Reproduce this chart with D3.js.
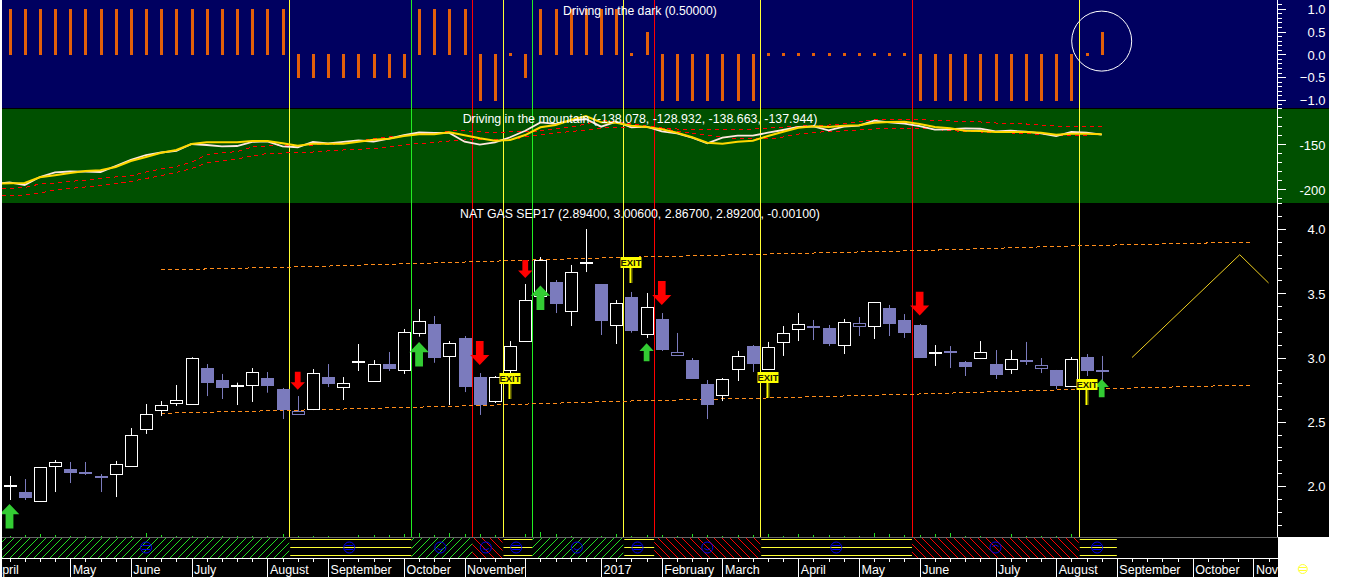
<!DOCTYPE html>
<html><head><meta charset="utf-8">
<script src="https://cdn.jsdelivr.net/npm/d3@7/dist/d3.min.js"></script>
<style>html,body{margin:0;padding:0;background:#fff;overflow:hidden}svg{display:block}text{font-family:"Liberation Sans",Arial,sans-serif;fill:#fff}</style>
</head><body><svg id="c" width="1352" height="577"></svg>
<script>
// ---------- data ----------
const opens=[2.002,1.953,1.878,2.158,2.132,2.099,2.078,2.096,2.158,2.446,2.594,2.648,2.636,2.918,2.825,2.778,2.781,2.840,2.752,2.584,2.597,2.848,2.765,2.961,2.819,2.949,2.903,3.191,3.261,3.006,3.152,2.848,2.664,2.903,3.131,3.473,3.587,3.356,3.731,3.572,3.247,3.471,3.177,3.300,3.040,2.980,2.794,2.708,2.910,3.089,2.910,3.121,3.219,3.245,3.230,3.092,3.268,3.240,3.385,3.292,3.253,3.035,3.051,2.965,2.991,2.949,2.905,2.980,2.944,2.903,2.773,3.004,2.894];
const highs=[2.078,2.054,2.146,2.202,2.187,2.187,2.093,2.195,2.451,2.638,2.661,2.786,3.002,2.949,2.872,2.804,2.918,2.887,2.763,2.700,2.910,2.949,2.848,3.105,2.980,3.043,3.222,3.377,3.323,3.128,3.167,2.879,2.856,3.128,3.572,3.782,3.603,3.720,4.000,3.572,3.447,3.510,3.502,3.346,3.191,2.996,2.825,2.840,3.051,3.097,3.121,3.245,3.346,3.292,3.253,3.300,3.315,3.432,3.409,3.338,3.261,3.097,3.089,2.973,3.128,3.058,3.058,3.121,2.996,2.903,3.004,3.027,3.012];
const lows=[1.891,1.891,1.878,1.953,2.023,2.086,1.953,1.914,2.148,2.405,2.545,2.623,2.633,2.700,2.677,2.630,2.654,2.726,2.521,2.563,2.591,2.770,2.669,2.895,2.817,2.895,2.872,3.162,2.959,2.630,2.731,2.553,2.646,2.879,3.131,3.447,3.346,3.245,3.665,3.175,3.105,3.193,3.152,3.051,3.014,2.833,2.521,2.661,2.817,2.887,2.903,3.012,3.128,3.136,3.089,3.027,3.167,3.144,3.167,3.152,2.996,2.934,2.918,2.856,2.988,2.833,2.872,2.942,2.879,2.755,2.770,2.856,2.809];
const closes=[2.004,1.907,2.146,2.187,2.101,2.096,2.062,2.171,2.397,2.560,2.630,2.669,2.994,2.802,2.763,2.781,2.885,2.778,2.586,2.563,2.877,2.794,2.799,2.963,2.952,2.910,3.196,3.282,2.996,3.110,2.770,2.628,2.848,3.087,3.447,3.756,3.416,3.663,3.733,3.284,3.422,3.206,3.391,3.058,3.014,2.833,2.630,2.833,3.012,2.949,3.082,3.191,3.261,3.230,3.105,3.274,3.247,3.430,3.261,3.191,2.996,3.037,3.035,2.926,3.040,2.864,2.986,2.973,2.921,2.778,2.986,2.895,2.892];
const hollowBars=[19,44,56,68];
const signal=[1,1,1,1,1,1,1,1,1,1,1,1,1,1,1,1,1,1,1,-0.5,-0.5,-0.5,-0.5,-0.5,-0.5,-0.5,-0.5,1,1,1,1,-1,-1,0,-0.5,1,1,1,1,1,1,0,0.5,-1,-1,-1,-1,-1,-1,-1,0,0,0,0,0,0,0,0,0,0,-1,-1,-1,-1,-1,-1,-1,-1,-1,-1,-1,0,0.5];
// the four indicator lines start one bar before the first candle (off the left edge)
const fastLine=[-193.7,-192.4,-195.2,-186.3,-181.3,-180.2,-180.4,-180.8,-174.1,-167.4,-161.9,-159.1,-157.4,-149.7,-150.8,-152.4,-151.9,-147.4,-146.7,-152.4,-153.3,-147.4,-149.1,-147.4,-145.8,-146.9,-143.6,-139.7,-136.9,-137.4,-137.4,-147.1,-150.4,-147.8,-142.2,-134.9,-125.6,-127.4,-123.8,-121.9,-130.4,-124.9,-131.1,-130.4,-135.6,-137.8,-142.7,-148.9,-142.7,-140.4,-140.4,-137.1,-134.1,-130.8,-130,-134.4,-130.4,-129.3,-123.8,-125.6,-127.1,-129.7,-133.8,-133.3,-132.4,-132.7,-135.6,-134.9,-136,-137.8,-140.8,-136.3,-137.1,-139.3];
const slowLine=[-194,-193.3,-193,-186.7,-184.4,-181.9,-179.7,-178.9,-175.2,-168.6,-164.1,-159.3,-156.3,-149.7,-147.8,-147.8,-147.8,-146.3,-146.3,-148.9,-151.6,-149.3,-149.3,-149.3,-147.1,-144.9,-143.8,-140.8,-138.9,-138.9,-136.7,-139.9,-143.3,-146,-145.2,-139.7,-131.1,-128.6,-123,-118.6,-125.6,-126,-129.3,-130.8,-133.3,-137.1,-142.2,-148.2,-149.3,-147.1,-146,-140.8,-136,-131.6,-130,-130.8,-129.3,-128.9,-126,-125.2,-124.9,-127.4,-130.8,-132.2,-134.9,-135.2,-136.3,-136.3,-136.3,-137.1,-139.3,-138.2,-138.2,-138.9];
const bandHigh=[-199,-198.8,-198,-194.1,-193,-191.3,-189.7,-188,-186.3,-185.2,-180.8,-177.4,-174.7,-169.7,-161.9,-159.7,-158,-153,-151.9,-151.3,-151.9,-150.8,-150.2,-149.1,-146.3,-144.1,-141.9,-140.2,-138.6,-137.4,-135.2,-135.2,-136.3,-136.9,-136.3,-136.3,-135.2,-133,-130.8,-127.4,-123,-125.2,-127.4,-129.7,-131.9,-133,-133.6,-134.1,-134.1,-133.6,-133,-131.9,-130.8,-129.7,-129.1,-128.6,-127.4,-125.2,-123,-121.9,-121.9,-122.4,-123.6,-124.1,-125.2,-125.2,-126.3,-126.9,-127.4,-128.6,-129.7,-130.2,-129.7,-130.2];
const bandLow=[-206.8,-206.7,-206.3,-204.1,-200.8,-199.1,-197.4,-195.8,-193.6,-191.3,-188,-184.7,-181.3,-176.9,-170.8,-168.6,-166.3,-163,-160.2,-159.7,-159.1,-158.6,-157.4,-156.3,-155.8,-154.7,-153,-150.8,-149.1,-148,-146.3,-145.2,-145.2,-145.2,-145.2,-141.9,-139.1,-137.4,-135.8,-134.1,-131.9,-130.8,-130.8,-131.3,-132.4,-135.2,-137.4,-139.7,-141.9,-143.6,-144.1,-144.1,-141.9,-138.6,-136.9,-135.8,-135.2,-134.1,-133,-131.9,-131.9,-132.4,-133.6,-134.7,-135.8,-136.3,-136.9,-137.4,-138,-139.1,-139.7,-139.7,-139.7,-139.1];
const channelBars=[10,20,30,40,50,60,70,82];
const channelUpper=[3.681,3.708,3.743,3.778,3.805,3.832,3.868,3.899];
const channelLower=[2.566,2.593,2.623,2.659,2.685,2.716,2.751,2.786];
const forecastBars=[74,81.1,83];
const forecastPrices=[3.0,3.80,3.58];
const eventBars=[18.44,26.49,30.51,32.5,34.44,40.46,42.5,49.49,59.49,70.49];
const eventKinds=["y","g","r","y","g","y","r","y","r","y"];
const upArrowBars=[0,27,35,42,72];
const upArrowTips=[1.86,3.12,3.56,3.11,2.83];
const upArrowEnds=[1.67,2.93,3.37,2.97,2.69];
const downArrowBars=[19,31,34,43,60];
const downArrowTips=[2.749,2.942,3.618,3.409,3.326];
const downArrowEnds=[2.889,3.128,3.758,3.595,3.512];
const exitBars=[33,41,50,71];
const exitTips=[2.677,3.582,2.685,2.630];
const volumes=[1,2,3,2,1,1,1,1,1,4,2,1,1,1,1,1,1,1,3,1,1,1,0,2,2,2,3,4,2,4,3,3,2,0,3,5,3,1,0,1,3,1,2,2,1,3,2,1,2,2,3,1,3,2,2,1,1,4,3,2,2,3,4,1,1,0,3,1,1,1,3,0,0];
const stripeStarts=[-0.49,18.44,26.49,30.51,32.5,34.44,40.46,42.5,49.49,59.49,70.49];
const stripeEnds=[18.44,26.49,30.51,32.5,34.44,40.46,42.5,49.49,59.49,70.49,73];
const stripeKinds=["g","y","g","r","y","g","y","r","y","r","y"];
const faceBars=[9,22.4,28.4,31.4,33.4,37.4,41.4,46,54.5,65,71.7];
const faceKinds=["n","n","s","s","n","s","n","s","n","f","n"];
const monthBars=[-1.2,4,8,12,17,21,26,30,34,39,43,47,52,56,60,65,69,73,78,82];
const monthLabels=["April","May","June","July","August","September","October","November","","2017","February","March","April","May","June","July","August","September","October","Nov"];
const axisBars=d3.range(0,85);
const topMajor=[1,0.5,0,-0.5,-1];
const topMinor=d3.range(-11,12).map(d=>d/10);
const midMajor=[-150,-200];
const midMinor=d3.range(-210,-109,10);
const mainMajor=[4,3.5,3,2.5,2];
const mainMinor=d3.range(15,43).map(d=>d/10);
const titleTop="Driving in the  dark (0.50000)";
const titleMid="Driving in the mountain (-138.078, -128.932, -138.663, -137.944)";
const titleMain="NAT GAS SEP17 (2.89400, 3.00600, 2.86700, 2.89200, -0.00100)";

// ---------- scales ----------
const x=d3.scaleLinear().domain([0,72]).range([9.5,1101.7]);
const yTop=d3.scaleLinear().domain([-1,1]).range([99.8,8.8]);
const yMid=d3.scaleLinear().domain([-200,-150]).range([189.3,144.3]);
const yMain=d3.scaleLinear().domain([2,4]).range([486,229]);
const yVol=d3.scaleLinear().domain([0,1]).range([537,536]);
const snap=v=>Math.round(v)+0.5;
const COL={y:"#ffff33",g:"#22ee22",r:"#ff0000"};
const BLUE="#7b7bbd",ORANGE="#e25f0a",ARROWG="#33cc33";

const svg=d3.select("#c");
const defs=svg.append("defs");
const clip=(id,a,b,c,d)=>defs.append("clipPath").attr("id",id).append("rect").attr("x",a).attr("y",b).attr("width",c).attr("height",d);
clip("plot",2,0,1276,537); clip("dates",2,558,1276,19);
const hatch=(id,col,dir)=>{const p=defs.append("pattern").attr("id",id).attr("patternUnits","userSpaceOnUse").attr("width",8).attr("height",8);
  p.append("path").attr("d",dir>0?"M-1,9L9,-1":"M-1,-1L9,9").attr("stroke",col).attr("stroke-width",1).attr("fill","none").attr("shape-rendering","crispEdges");};
hatch("hg","#22dd22",1); hatch("hr","#ff0000",-1);

// ---------- panels ----------
const bg=[[0,108,"#000060"],[109,94,"#005000"],[203,334,"#000000"]];
bg.forEach(b=>svg.append("rect").attr("x",2).attr("y",b[0]).attr("width",1327).attr("height",b[1]).attr("fill",b[2]));
svg.append("rect").attr("x",2).attr("y",108).attr("width",1327).attr("height",1).attr("fill","#000");
svg.append("rect").attr("x",2).attr("y",537).attr("width",1276).attr("height",40).attr("fill","#000");

const plot=svg.append("g").attr("clip-path","url(#plot)");
// event lines
plot.selectAll(".ev").data(eventBars).join("line").attr("x1",d=>snap(x(d))).attr("x2",d=>snap(x(d)))
  .attr("y1",0).attr("y2",537).attr("stroke",(d,i)=>COL[eventKinds[i]]).attr("stroke-width",1);

// top panel
plot.selectAll(".sig").data(signal).join("rect")
  .attr("x",(d,i)=>Math.round(x(i))-1).attr("width",3)
  .attr("y",d=>d>=0?yTop(d)-(d===0?1:0):yTop(0)).attr("height",d=>d===0?3:Math.abs(yTop(d)-yTop(0))+1)
  .attr("fill",ORANGE).attr("shape-rendering","crispEdges");

// mid panel
const lineOf=d3.line().x((d,i)=>x(i-1)).y(d=>yMid(d));
[[bandHigh,"#ff0000",1,"4 4","crispEdges"],[bandLow,"#ff0000",1,"4 4","crispEdges"],[fastLine,"#ffe8e0",1.8,null,null],[slowLine,"#ffd800",2,null,null]].forEach(s=>{
  plot.append("path").attr("d",lineOf(s[0])).attr("fill","none").attr("stroke",s[1]).attr("stroke-width",s[2]).attr("stroke-dasharray",s[3]).attr("shape-rendering",s[4]);
});

// channel + forecast
const chLine=d3.line().x((d,i)=>x(channelBars[i])).y(d=>yMain(d));
[channelUpper,channelLower].forEach(a=>plot.append("path").attr("d",chLine(a)).attr("fill","none").attr("stroke","#ff8c1a").attr("stroke-width",1).attr("stroke-dasharray","4 3").attr("shape-rendering","crispEdges"));
plot.append("path").attr("d",d3.line().x((d,i)=>x(forecastBars[i])).y(d=>yMain(d))(forecastPrices)).attr("fill","none").attr("stroke","#f0d020").attr("stroke-width",1);

// candles
const W=13;
const candles=plot.selectAll(".cd").data(d3.range(opens.length)).join("g");
candles.each(function(i){
  const g=d3.select(this),o=opens[i],c=closes[i],cx=Math.round(x(i))+0.5;
  const up=c>=o,hollow=hollowBars.includes(i),col=up?"#fff":BLUE;
  g.append("line").attr("x1",cx).attr("x2",cx).attr("y1",yMain(highs[i])).attr("y2",yMain(lows[i])).attr("stroke",col).attr("stroke-width",1);
  const t=yMain(Math.max(o,c)),b=yMain(Math.min(o,c)),h=b-t;
  if(h<2.5&&!hollow){
    g.append("rect").attr("x",cx-W/2).attr("width",W).attr("y",Math.round((t+b)/2)-1).attr("height",2).attr("fill",col).attr("shape-rendering","crispEdges");
  }else if(up||hollow){
    g.append("rect").attr("x",cx-W/2+0.5).attr("width",W-1).attr("y",snap(t)).attr("height",Math.max(1,Math.round(h)))
     .attr("fill","#000").attr("stroke",col).attr("stroke-width",1).attr("shape-rendering","crispEdges");
  }else{
    g.append("rect").attr("x",cx-W/2).attr("width",W).attr("y",Math.round(t)).attr("height",Math.round(h)).attr("fill",col).attr("shape-rendering","crispEdges");
  }
});

// arrows
function arrow(cx,tip,end){
  const L=Math.abs(end-tip),s=Math.sign(end-tip),hw=L*0.4,hl=L*0.42,sw=L*0.16;
  return `M${cx},${tip}L${cx+hw},${tip+s*hl}L${cx+sw},${tip+s*hl}L${cx+sw},${end}L${cx-sw},${end}L${cx-sw},${tip+s*hl}L${cx-hw},${tip+s*hl}Z`;
}
plot.selectAll(".ua").data(upArrowBars).join("path").attr("d",(d,i)=>arrow(x(d),yMain(upArrowTips[i]),yMain(upArrowEnds[i]))).attr("fill",ARROWG);
plot.selectAll(".da").data(downArrowBars).join("path").attr("d",(d,i)=>arrow(x(d),yMain(downArrowTips[i]),yMain(downArrowEnds[i]))).attr("fill","#ff0000");

// exit flags
exitBars.forEach((b,i)=>{
  const cx=Math.round(x(b))-0.5,tip=Math.round(yMain(exitTips[i]));
  plot.append("rect").attr("x",cx-1).attr("y",tip-16).attr("width",2).attr("height",16).attr("fill","#ffff00");
  plot.append("rect").attr("x",cx+1).attr("y",tip-16).attr("width",1).attr("height",16).attr("fill","#808000");
  plot.append("rect").attr("x",cx-10).attr("y",tip-26).attr("width",21).attr("height",11).attr("fill","#ffff00");
  plot.append("text").attr("x",cx+0.5).attr("y",tip-17).attr("text-anchor","middle").attr("font-size",9.5).attr("font-weight","bold").style("fill","#202000").text("EXIT");
});

// highlight ring
plot.append("circle").attr("cx",x(72)).attr("cy",yTop(0.29)).attr("r",30).attr("fill","none").attr("stroke","#fff").attr("stroke-width",1);

// titles
[[titleTop,15,12.2],[titleMid,123,12.4],[titleMain,218,12.3]].forEach(t=>svg.append("text").attr("x",640).attr("y",t[1]).attr("text-anchor","middle").attr("font-size",t[2]).text(t[0]));

// right axes
function rightAxis(scale,major,minor,fmt){
  const ax=1277.5;
  const gm=svg.append("g").attr("transform",`translate(${ax},0)`).call(d3.axisRight(scale).tickValues(minor).tickSize(4).tickFormat(""));
  const gM=svg.append("g").attr("transform",`translate(${ax},0)`).call(d3.axisRight(scale).tickValues(major).tickSize(8).tickFormat(fmt));
  [gm,gM].forEach(g=>{g.select(".domain").remove();g.selectAll("line").attr("stroke","#fff").attr("shape-rendering","crispEdges");});
  gM.selectAll("text").attr("x",48).attr("y",0.6).attr("text-anchor","end").attr("font-size",13).attr("font-family",null).style("fill","#fff");
}
svg.append("line").attr("x1",1277.5).attr("x2",1277.5).attr("y1",0).attr("y2",537).attr("stroke","#fff");
rightAxis(yTop,topMajor,topMinor,d3.format(".1f"));
rightAxis(yMid,midMajor,midMinor,d=>String(d));
rightAxis(yMain,mainMajor,mainMinor,d3.format(".1f"));

// volume ticks
plot.selectAll(".vol").data(volumes).join("line").attr("x1",(d,i)=>Math.round(x(i))+0.5).attr("x2",(d,i)=>Math.round(x(i))+0.5)
  .attr("y1",537).attr("y2",d=>yVol(d)).attr("stroke","#22dd22");

// status strip
svg.append("rect").attr("x",2).attr("y",537).attr("width",1276).attr("height",1).attr("fill","#666");
stripeKinds.forEach((k,i)=>{
  const a=x(stripeStarts[i]),b=x(stripeEnds[i]);
  if(k==="y"){
    [539.5,547.5,555.5].forEach(v=>svg.append("line").attr("x1",a+1).attr("x2",b).attr("y1",v).attr("y2",v).attr("stroke","#ffff33"));
  }else{
    svg.append("rect").attr("x",a).attr("y",538).attr("width",b-a).attr("height",20).attr("fill",`url(#h${k})`);
  }
});
faceBars.forEach((b,i)=>{
  const cx=x(b),cy=547.5,g=svg.append("g").attr("fill","none").attr("stroke","#0000ee");
  g.append("circle").attr("cx",cx).attr("cy",cy).attr("r",5.5);
  if(faceKinds[i]==="n"){g.append("line").attr("x1",cx-4).attr("x2",cx+4).attr("y1",cy-2).attr("y2",cy-2);g.append("line").attr("x1",cx-4).attr("x2",cx+4).attr("y1",cy+2).attr("y2",cy+2);}
  else{const s=faceKinds[i]==="s"?1:-1;g.append("path").attr("d",`M${cx-3},${cy+1*s}Q${cx},${cy+4*s} ${cx+3},${cy+1*s}`);}
});
svg.append("line").attr("x1",2).attr("x2",1278).attr("y1",558.5).attr("y2",558.5).attr("stroke","#fff");

// date axis
const dg=svg.append("g").attr("clip-path","url(#dates)");
const small=dg.append("g").attr("transform","translate(0,558)").call(d3.axisBottom(x).tickValues(axisBars).tickSize(4).tickFormat(""));
small.select(".domain").remove(); small.selectAll("line").attr("stroke","#fff").attr("shape-rendering","crispEdges");
const big=dg.append("g").attr("transform","translate(0,558)").call(d3.axisBottom(x).tickValues(monthBars).tickSize(19).tickFormat((d,i)=>monthLabels[i]));
big.select(".domain").remove(); big.selectAll("line").attr("stroke","#fff").attr("shape-rendering","crispEdges");
big.selectAll("text").attr("x",2).attr("y",7).attr("text-anchor","start").attr("font-size",12.5).attr("font-family",null).style("fill","#fff");

// marker on white margin
const m=svg.append("g").attr("fill","none").attr("stroke","#ffff33");
m.append("circle").attr("cx",1302.7).attr("cy",569).attr("r",4.5);
m.append("line").attr("x1",1299).attr("x2",1306.5).attr("y1",567.5).attr("y2",567.5);
m.append("line").attr("x1",1299).attr("x2",1306.5).attr("y1",570.5).attr("y2",570.5);
</script></body></html>
